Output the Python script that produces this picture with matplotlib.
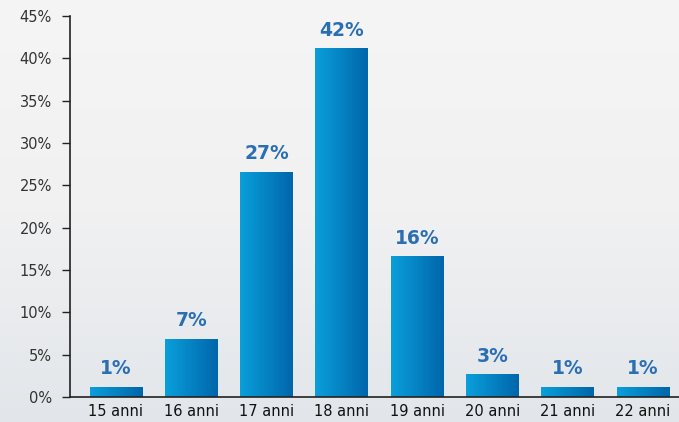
import matplotlib.pyplot as plt
import numpy as np
from matplotlib.colors import LinearSegmentedColormap

categories = ['15 anni', '16 anni', '17 anni', '18 anni', '19 anni', '20 anni', '21 anni', '22 anni']
values = [1.2, 6.9, 26.6, 41.2, 16.6, 2.7, 1.2, 1.2]
value_labels = ['1%', '7%', '27%', '42%', '16%', '3%', '1%', '1%']
yticks = [0, 5, 10, 15, 20, 25, 30, 35, 40, 45]

fig = plt.figure(figsize=(6.79, 4.22), dpi=100)

# sfondo grigio sfumato (chiaro in alto, piu' scuro verso il basso)
bg = fig.add_axes([0, 0, 1, 1], zorder=-1)
bg_cmap = LinearSegmentedColormap.from_list(
    'bg', [(0, '#e2e6ea'), (0.5, '#f1f1f2'), (1, '#f5f5f5')])
bg.imshow(np.linspace(0, 1, 256).reshape(-1, 1), cmap=bg_cmap, aspect='auto',
          origin='lower', extent=(0, 1, 0, 1))
bg.axis('off')

ax = fig.add_axes([70 / 679, 25 / 422, 1 - 70 / 679, 381 / 422])
ax.patch.set_alpha(0)

x = np.arange(len(categories))
bars = ax.bar(x, values, width=0.7, color='none', edgecolor='none')

# gradiente orizzontale sulle barre
bar_cmap = LinearSegmentedColormap.from_list('bar', ['#0a9fdb', '#0066aa'])
grad = np.linspace(0, 1, 256).reshape(1, -1)
for b in bars:
    im = ax.imshow(grad, cmap=bar_cmap, aspect='auto',
                   extent=(b.get_x(), b.get_x() + b.get_width(), 0, b.get_height()),
                   zorder=2)
    im.set_clip_path(b)

for xi, v, lab in zip(x, values, value_labels):
    ax.text(xi, v + 1.0, lab, ha='center', va='bottom', fontsize=13.5,
            fontweight='bold', color='#2a6fb4')

ax.set_xlim(-0.61, 7.48)
ax.set_ylim(0, 45)
ax.set_yticks(yticks)
ax.set_yticklabels(['%d%%' % t for t in yticks], fontsize=10.5, color='#333333')
ax.set_xticks(x)
ax.set_xticklabels(categories, fontsize=10.5, color='#111111')
ax.tick_params(axis='x', length=0, pad=5)
ax.tick_params(axis='y', length=6, width=1, color='#222222', pad=7, direction='out')

for s in ['top', 'right']:
    ax.spines[s].set_visible(False)
ax.spines['left'].set_color('#222222')
ax.spines['bottom'].set_color('#222222')
ax.spines['left'].set_linewidth(1.2)
ax.spines['bottom'].set_linewidth(1.2)

fig.savefig('out.png', dpi=100)
